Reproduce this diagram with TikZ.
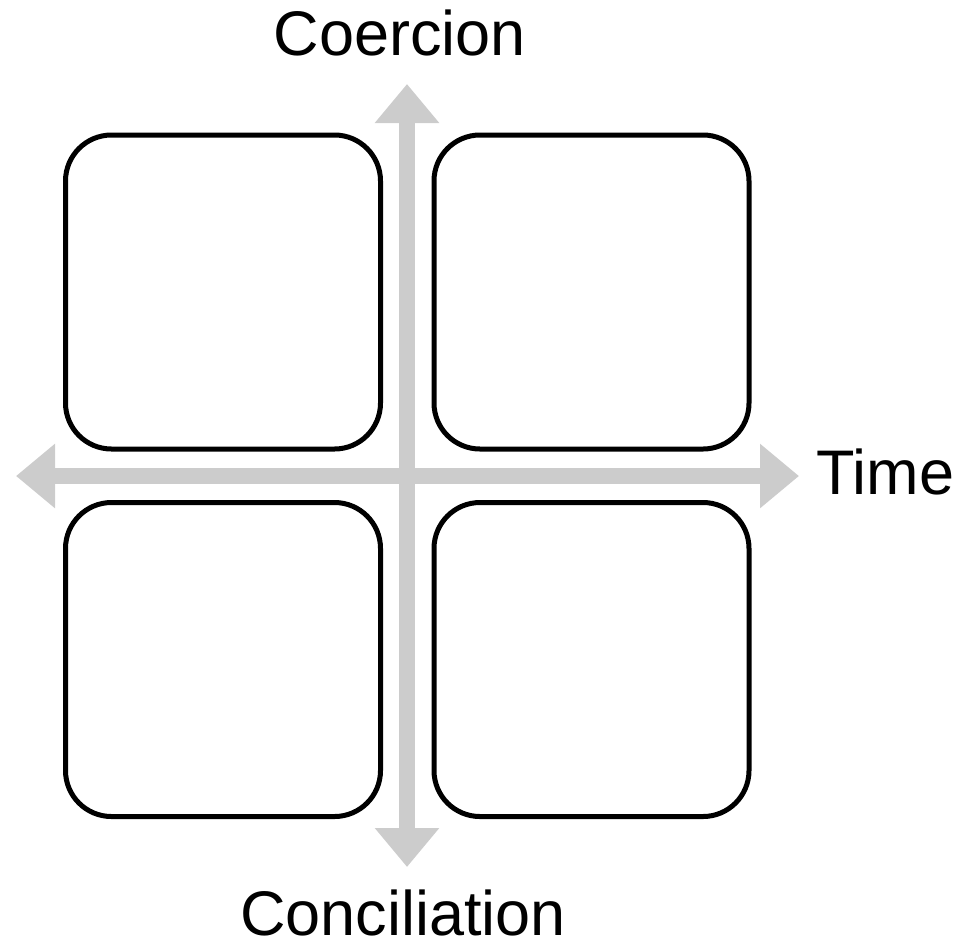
\documentclass[tikz,border=0pt]{standalone}
\usepackage{fontspec}
\setmainfont{Liberation Sans}
\usetikzlibrary{arrows.meta}
\definecolor{axisgray}{RGB}{204,204,204}
\begin{document}
\begin{tikzpicture}[x=0.5pt,y=-0.5pt]
\tikzstyle{quadbox} = [draw, line width=2.5pt, rounded corners=23pt, minimum width=157.5pt, minimum height=157pt, inner sep=0pt, fill=white]
\tikzstyle{axis} = [draw=axisgray, line width=8pt, {Triangle[width=31pt,length=19.5pt]}-{Triangle[width=31pt,length=19.5pt]}]
\tikzstyle{axislabel} = [inner sep=0pt, font=\fontsize{31.5}{38}\selectfont]
\useasboundingbox (0,0) rectangle (967,944);
% axes
\coordinate (top) at (407,84);
\coordinate (bottom) at (407,867);
\coordinate (left) at (16,476);
\coordinate (right) at (799,476);
\draw[axis] (bottom) -- (top);
\draw[axis] (left) -- (right);
% quadrants
\node[quadbox] (nw) at (223,292) {};
\node[quadbox] (ne) at (591.5,292) {};
\node[quadbox] (sw) at (223,659.5) {};
\node[quadbox] (se) at (591.5,659.5) {};
% labels
\node[axislabel, anchor=base] (coercion) at (400,55) {Coercion};
\node[axislabel, anchor=base] (conciliation) at (403,935) {Conciliation};
\node[axislabel, anchor=base west] (time) at (816,494) {Time};
\end{tikzpicture}
\end{document}
